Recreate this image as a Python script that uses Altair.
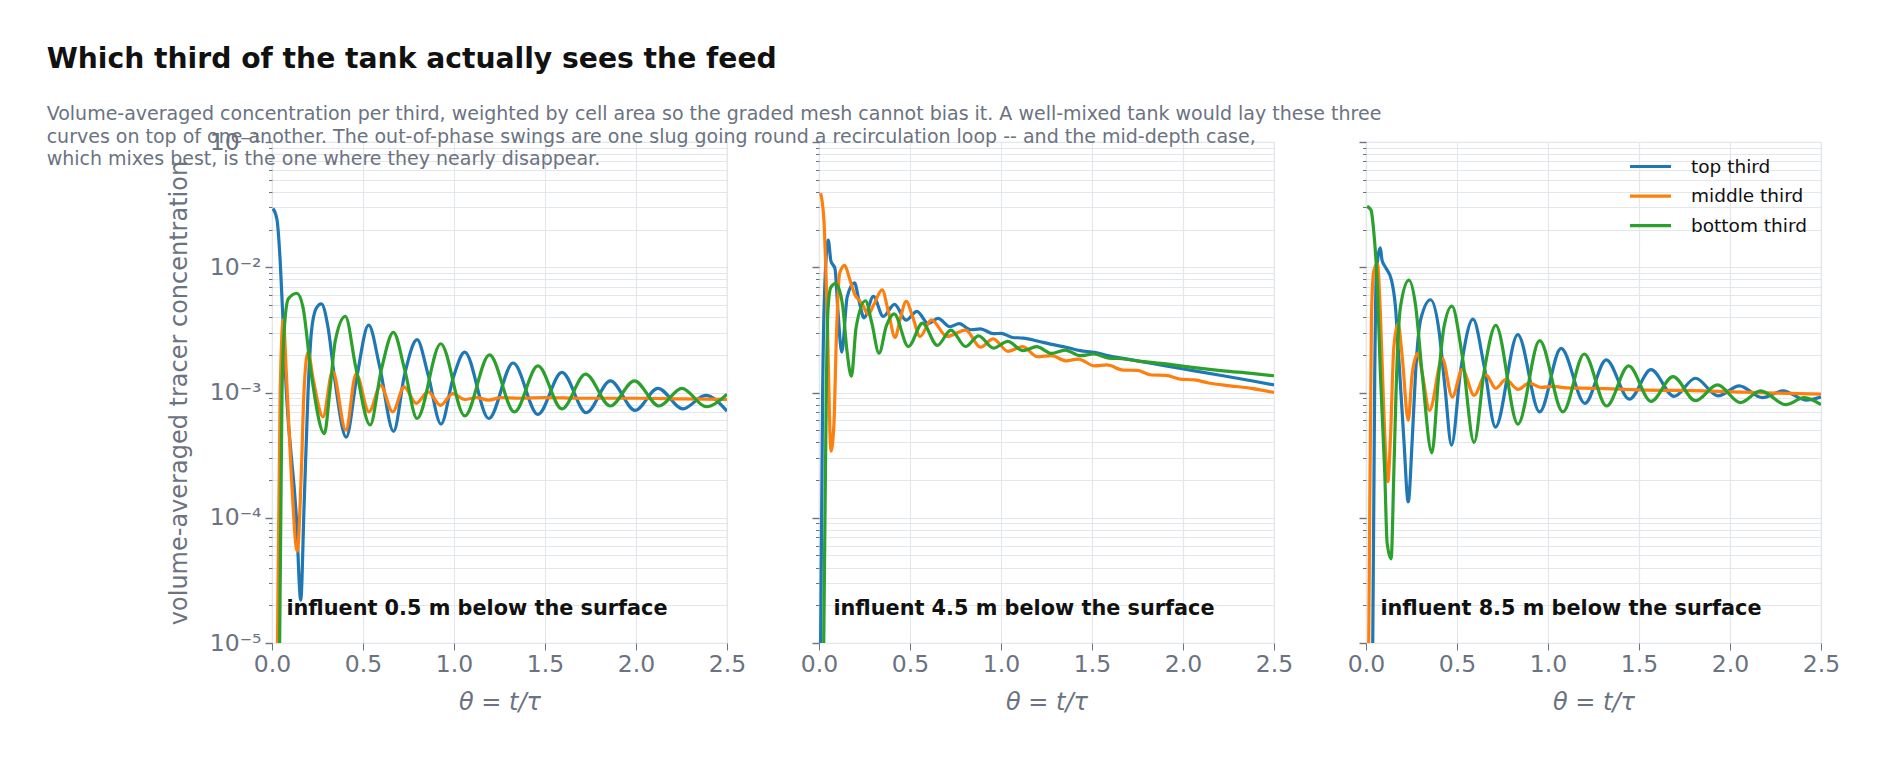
import altair as alt
import pandas as pd

SERIES = ["top third", "middle third", "bottom third"]
COLORS = ["#1f77b4", "#ff7f0e", "#2ca02c"]
PANEL_LABELS = [
    "influent 0.5 m below the surface",
    "influent 4.5 m below the surface",
    "influent 8.5 m below the surface",
]

# ---------------- panel 1: influent 0.5 m ----------------
P1_TOP_T = [0.005, 0.027, 0.046, 0.058, 0.079, 0.134, 0.158, 0.176, 0.198, 0.216, 0.243, 0.271, 0.308, 0.344,
            0.408, 0.465, 0.531, 0.592, 0.668, 0.729, 0.797, 0.857, 0.929, 0.995, 1.059, 1.191, 1.325, 1.461,
            1.593, 1.727, 1.859, 1.995, 2.12, 2.257, 2.382, 2.5]
P1_TOP_C = [0.0294, 0.0242, 0.0105, 4.5e-3, 1.0e-3, 1.0e-4, 2.2e-5, 1.2e-4, 1.0e-3, 3.0e-3, 4.7e-3, 5.1e-3, 3.3e-3,
            1.3e-3, 4.4e-4, 1.3e-3, 3.45e-3, 1.6e-3, 4.9e-4, 1.4e-3, 2.64e-3, 1.4e-3, 5.6e-4, 1.3e-3, 2.1e-3,
            6.2e-4, 1.72e-3, 6.7e-4, 1.45e-3, 6.9e-4, 1.24e-3, 7.2e-4, 1.08e-3, 7.4e-4, 9.5e-4, 7.1e-4]
P1_MID_T = [0.0, 0.03, 0.045, 0.062, 0.079, 0.106, 0.139, 0.161, 0.176, 0.198, 0.227, 0.28, 0.333, 0.406, 0.462,
            0.533, 0.597, 0.663, 0.726, 0.792, 0.858, 0.926, 0.993, 1.059, 1.125, 1.19, 1.257, 1.35, 1.5, 1.7,
            2.0, 2.25, 2.5]
P1_MID_C = [1e-7, 1e-5, 1.0e-3, 3.8e-3, 1.4e-3, 2.2e-4, 5.4e-5, 2.3e-4, 1.04e-3, 2.1e-3, 1.26e-3, 6.4e-4, 1.48e-3,
            5.0e-4, 1.41e-3, 7.0e-4, 1.14e-3, 7.0e-4, 1.11e-3, 8.2e-4, 1.01e-3, 7.9e-4, 9.8e-4, 8.8e-4, 9.1e-4,
            8.7e-4, 9.1e-4, 9.0e-4, 9.1e-4, 9.0e-4, 9.0e-4, 8.9e-4, 8.8e-4]
P1_BOT_T = [0.0, 0.042, 0.055, 0.07, 0.09, 0.137, 0.17, 0.216, 0.288, 0.317, 0.348, 0.403, 0.46, 0.539, 0.60,
            0.667, 0.73, 0.797, 0.927, 1.059, 1.195, 1.332, 1.461, 1.593, 1.723, 1.859, 1.991, 2.127, 2.252,
            2.386, 2.5]
P1_BOT_C = [1e-7, 1e-5, 1.0e-3, 3.6e-3, 5.6e-3, 6.2e-3, 4.8e-3, 1.4e-3, 4.7e-4, 1.0e-3, 2.6e-3, 4.05e-3, 1.6e-3,
            5.5e-4, 1.5e-3, 3.02e-3, 1.5e-3, 6.2e-4, 2.45e-3, 6.5e-4, 2.0e-3, 7.0e-4, 1.63e-3, 7.4e-4, 1.40e-3,
            7.8e-4, 1.24e-3, 7.8e-4, 1.08e-3, 7.7e-4, 9.7e-4]

# ---------------- panel 2: influent 4.5 m ----------------
P2_TOP_T = [0.0, 0.009, 0.02, 0.03, 0.051, 0.065, 0.088, 0.104, 0.125, 0.155, 0.195, 0.22, 0.247, 0.299, 0.353,
            0.415, 0.478, 0.538, 0.6, 0.654, 0.72, 0.77, 0.835, 0.887, 0.958, 1.0, 1.063, 1.122, 1.2, 1.278,
            1.357, 1.435, 1.514, 1.592, 1.749, 1.906, 2.063, 2.22, 2.376, 2.5]
P2_TOP_C = [1e-7, 1e-5, 1.0e-3, 6.0e-3, 0.0165, 0.0113, 9.7e-3, 4.5e-3, 2.1e-3, 5.8e-3, 7.5e-3, 5.4e-3, 3.95e-3,
            5.85e-3, 4.05e-3, 5.05e-3, 3.78e-3, 4.45e-3, 3.55e-3, 3.9e-3, 3.35e-3, 3.55e-3, 3.17e-3, 3.22e-3,
            2.95e-3, 2.97e-3, 2.75e-3, 2.72e-3, 2.58e-3, 2.42e-3, 2.3e-3, 2.16e-3, 2.09e-3, 1.96e-3, 1.79e-3,
            1.63e-3, 1.49e-3, 1.36e-3, 1.24e-3, 1.15e-3]
P2_MID_T = [0.009, 0.027, 0.044, 0.066, 0.082, 0.095, 0.113, 0.141, 0.168, 0.198, 0.223, 0.24, 0.27, 0.30, 0.347,
            0.38, 0.418, 0.445, 0.479, 0.515, 0.555, 0.618, 0.703, 0.806, 0.887, 0.957, 1.039, 1.118, 1.2, 1.278,
            1.357, 1.425, 1.514, 1.582, 1.67, 1.749, 1.827, 1.906, 1.984, 2.063, 2.141, 2.259, 2.376, 2.5]
P2_MID_C = [0.039, 0.0237, 4.8e-3, 3.4e-4, 5.6e-4, 2.6e-3, 8.9e-3, 1.035e-2, 8.1e-3, 6.0e-3, 5.4e-3, 5.0e-3,
            4.2e-3, 5.0e-3, 6.6e-3, 4.5e-3, 2.75e-3, 3.8e-3, 5.35e-3, 4.0e-3, 2.8e-3, 3.8e-3, 2.8e-3, 3.15e-3,
            2.3e-3, 2.68e-3, 2.13e-3, 2.32e-3, 1.93e-3, 1.97e-3, 1.79e-3, 1.85e-3, 1.63e-3, 1.66e-3, 1.51e-3,
            1.5e-3, 1.38e-3, 1.37e-3, 1.28e-3, 1.26e-3, 1.19e-3, 1.13e-3, 1.08e-3, 1.0e-3]
P2_BOT_T = [0.0, 0.026, 0.04, 0.049, 0.065, 0.09, 0.105, 0.131, 0.153, 0.178, 0.204, 0.255, 0.29, 0.33, 0.37,
            0.413, 0.491, 0.569, 0.65, 0.725, 0.805, 0.877, 0.959, 1.037, 1.12, 1.196, 1.278, 1.353, 1.435,
            1.51, 1.592, 1.67, 1.749, 1.906, 2.063, 2.22, 2.376, 2.5]
P2_BOT_C = [1e-7, 1e-5, 1.0e-3, 4.5e-3, 6.9e-3, 7.4e-3, 7.0e-3, 4.8e-3, 2.2e-3, 1.35e-3, 3.3e-3, 5.4e-3, 3.6e-3,
            2.06e-3, 3.4e-3, 4.25e-3, 2.33e-3, 3.58e-3, 2.38e-3, 3.15e-3, 2.33e-3, 2.83e-3, 2.26e-3, 2.56e-3,
            2.16e-3, 2.32e-3, 2.05e-3, 2.18e-3, 1.97e-3, 2.03e-3, 1.88e-3, 1.86e-3, 1.79e-3, 1.69e-3, 1.58e-3,
            1.49e-3, 1.42e-3, 1.36e-3]

# ---------------- panel 3: influent 8.5 m ----------------
P3_TOP_T = [0.0, 0.037, 0.048, 0.057, 0.079, 0.088, 0.107, 0.14, 0.162, 0.18, 0.208, 0.232, 0.254, 0.272, 0.30,
            0.355, 0.40, 0.434, 0.47, 0.52, 0.588, 0.65, 0.711, 0.834, 0.954, 1.072, 1.203, 1.32, 1.447, 1.566,
            1.693, 1.81, 1.934, 2.051, 2.178, 2.291, 2.418, 2.5]
P3_TOP_C = [1e-7, 1e-5, 1.4e-3, 8.9e-3, 0.0143, 0.0114, 0.010, 7.9e-3, 4.8e-3, 1.9e-3, 4.2e-4, 1.34e-4, 4.2e-4,
            1.4e-3, 3.8e-3, 5.5e-3, 3.2e-3, 1.1e-3, 3.8e-4, 1.5e-3, 3.85e-3, 1.6e-3, 5.3e-4, 2.9e-3, 7.0e-4,
            2.25e-3, 8.2e-4, 1.82e-3, 8.85e-4, 1.52e-3, 9.3e-4, 1.30e-3, 9.4e-4, 1.13e-3, 9.1e-4, 1.03e-3,
            8.7e-4, 9.2e-4]
P3_MID_T = [0.0, 0.015, 0.03, 0.042, 0.0625, 0.079, 0.097, 0.12, 0.134, 0.153, 0.176, 0.199, 0.232, 0.254, 0.285,
            0.309, 0.349, 0.419, 0.474, 0.529, 0.594, 0.658, 0.713, 0.768, 0.836, 0.897, 0.96, 1.03, 1.1,
            1.268, 1.5, 1.853, 2.243, 2.5]
P3_MID_C = [1e-7, 1e-5, 4.0e-3, 9.2e-3, 0.0107, 4.3e-3, 7.7e-4, 1.94e-4, 4.2e-4, 2.3e-3, 3.55e-3, 1.93e-3, 6.0e-4,
            1.42e-3, 2.05e-3, 1.42e-3, 7.2e-4, 1.87e-3, 9.2e-4, 1.53e-3, 9.5e-4, 1.39e-3, 1.08e-3, 1.27e-3,
            1.06e-3, 1.19e-3, 1.1e-3, 1.12e-3, 1.09e-3, 1.08e-3, 1.05e-3, 1.03e-3, 9.9e-4, 9.7e-4]
P3_BOT_T = [0.006, 0.028, 0.042, 0.061, 0.079, 0.103, 0.116, 0.138, 0.153, 0.165, 0.189, 0.236, 0.272, 0.309,
            0.362, 0.40, 0.428, 0.472, 0.529, 0.594, 0.65, 0.713, 0.835, 0.954, 1.082, 1.199, 1.322, 1.443,
            1.566, 1.687, 1.81, 1.931, 2.057, 2.168, 2.307, 2.408, 2.5]
P3_BOT_C = [0.0307, 0.0285, 0.0197, 7.9e-3, 1.41e-3, 2.3e-4, 6.3e-5, 4.7e-5, 2.3e-4, 1.0e-3, 4.8e-3, 7.9e-3,
            5.0e-3, 1.4e-3, 3.3e-4, 1.4e-3, 3.3e-3, 4.9e-3, 1.95e-3, 4.0e-4, 1.5e-3, 3.43e-3, 5.6e-4, 2.6e-3,
            7.0e-4, 2.03e-3, 7.8e-4, 1.63e-3, 8.5e-4, 1.34e-3, 8.6e-4, 1.15e-3, 8.3e-4, 1.03e-3, 8.0e-4,
            9.1e-4, 8.0e-4]

PANELS = [
    [(P1_TOP_T, P1_TOP_C), (P1_MID_T, P1_MID_C), (P1_BOT_T, P1_BOT_C)],
    [(P2_TOP_T, P2_TOP_C), (P2_MID_T, P2_MID_C), (P2_BOT_T, P2_BOT_C)],
    [(P3_TOP_T, P3_TOP_C), (P3_MID_T, P3_MID_C), (P3_BOT_T, P3_BOT_C)],
]

X_TICKS = [0.0, 0.5, 1.0, 1.5, 2.0, 2.5]
Y_TICKS = [m * 10.0 ** k for k in range(-5, -1) for m in range(1, 10)] + [1e-1]
LABEL_POS = (0.079, 1.66e-5)

FONT = "DejaVu Sans"
GRAY = "#6b7280"
GRID = "#e3e6eb"

SUP = {-5: "10⁻⁵", -4: "10⁻⁴", -3: "10⁻³", -2: "10⁻²", -1: "10⁻¹"}
lab_expr = ""
for k, s in SUP.items():
    lab_expr += f"abs(log(datum.value)/LN10 - ({k})) < 0.001 ? '{s}' : "
lab_expr += "''"
MAJOR_TEST = "abs(log(datum.value)/LN10 - round(log(datum.value)/LN10)) < 0.001"


def panel(i):
    rows = []
    for name, (ts, cs) in zip(SERIES, PANELS[i]):
        for t, c in zip(ts, cs):
            rows.append({"theta": t, "conc": c, "series": name})
    df = pd.DataFrame(rows)

    first = i == 0
    yaxis = alt.Axis(
        values=Y_TICKS,
        labelExpr=lab_expr,
        labels=first,
        title="volume-averaged tracer concentration" if first else None,
        labelOverlap=False,
        tickSize={"condition": {"test": MAJOR_TEST, "value": 7}, "value": 3.5},
        tickWidth={"condition": {"test": MAJOR_TEST, "value": 1.4}, "value": 1.0},
        labelPadding=4,
        titlePadding=18,
    )
    color_legend = None
    if i == 2:
        color_legend = alt.Legend(
            title=None, orient="none", legendX=262, legendY=17,
            symbolType="stroke", symbolSize=1681, symbolStrokeWidth=3.2,
            labelFontSize=18.5, labelFont=FONT, labelColor="#111111",
            labelOffset=18, rowPadding=10.6, clipHeight=15, padding=0,
        )
    base = alt.Chart(df).mark_line(strokeWidth=3.2, interpolate="monotone", clip=True).encode(
        x=alt.X("theta:Q", scale=alt.Scale(domain=[0, 2.5], nice=False, zero=False),
                axis=alt.Axis(values=X_TICKS, format=".1f", title="θ = t/τ",
                              titleFontStyle="italic", tickSize=7, labelPadding=2.5,
                              labelFlush=False, titlePadding=14)),
        y=alt.Y("conc:Q", scale=alt.Scale(type="log", domain=[1e-5, 1e-1]), axis=yaxis),
        color=alt.Color("series:N", scale=alt.Scale(domain=SERIES, range=COLORS), sort=SERIES,
                        legend=color_legend),
        detail="series:N",
    )
    lab = alt.Chart(pd.DataFrame({"theta": [LABEL_POS[0]], "conc": [LABEL_POS[1]],
                                  "label": [PANEL_LABELS[i]]})).mark_text(
        align="left", baseline="alphabetic", fontWeight="bold", fontSize=20.8, font=FONT, color="#111111"
    ).encode(x="theta:Q", y="conc:Q", text="label:N")
    return alt.layer(base, lab).properties(width=455, height=501)


SUBTITLE = [
    "Volume-averaged concentration per third, weighted by cell area so the graded mesh cannot bias it. A well-mixed tank would lay these three",
    "curves on top of one another. The out-of-phase swings are one slug going round a recirculation loop -- and the mid-depth case,",
    "which mixes best, is the one where they nearly disappear.",
]

chart = alt.hconcat(panel(0), panel(1), panel(2), spacing=92, bounds="flush").resolve_legend(
    color="independent"
).properties(
    title=alt.TitleParams(
        text="Which third of the tank actually sees the feed",
        subtitle=SUBTITLE,
        anchor="start", frame="bounds",
        font=FONT, fontSize=28.2, fontWeight="bold", color="#111111",
        subtitleFont=FONT, subtitleFontSize=19, subtitleColor=GRAY,
        subtitleLineHeight=22.5, subtitlePadding=31, offset=-41, dx=-120,
    ),
    padding={"left": 38, "top": 37, "right": 10, "bottom": 10},
).configure_view(stroke=GRID, strokeWidth=1.2).configure_axis(
    labelFont=FONT, titleFont=FONT, labelFontSize=23.5, titleFontSize=24,
    labelColor=GRAY, titleColor=GRAY, titleFontWeight="normal",
    tickColor=GRAY, gridColor=GRID, gridWidth=1.2, domain=False,
)

chart.save("out.html", embed_options={"renderer": "svg", "actions": False})
